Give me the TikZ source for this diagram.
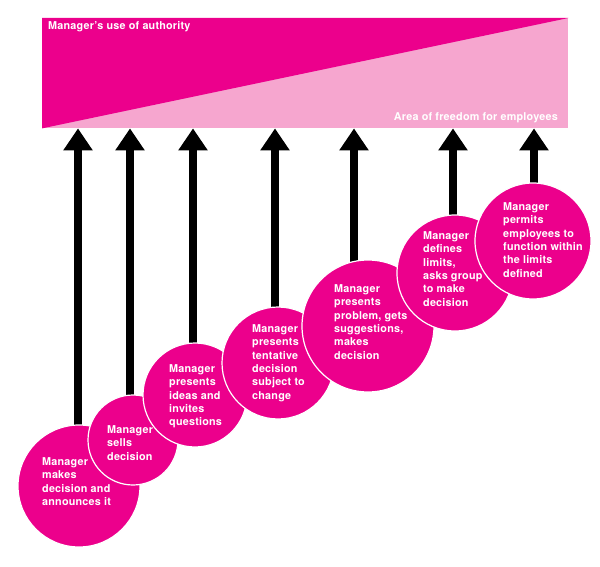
\documentclass[tikz,border=0pt]{standalone}
\usepackage{fontspec}
\setmainfont[LetterSpace=2]{TeX Gyre Heros}
\usetikzlibrary{arrows.meta}
\definecolor{mag}{RGB}{236,0,140}
\definecolor{lpink}{RGB}{246,166,207}
\newcommand{\lines}[1]{\begin{tabular}[t]{@{}l@{}}#1\end{tabular}}
\begin{document}
\begin{tikzpicture}[x=1pt,y=-1pt,
  bubble/.style={circle,fill=mag,draw=white,line width=1.2pt,inner sep=0pt,minimum size=#1},
  btext/.style={anchor=base west,inner sep=0pt,text=white,font=\fontsize{10.8}{13.3}\selectfont\bfseries},
  uparrow/.style={line width=8pt,-{Triangle[width=28pt,length=22pt]}},
]
\useasboundingbox (0,0) rectangle (600,567);
% bar
\node[fill=lpink,minimum width=526pt,minimum height=110pt,inner sep=0pt,anchor=north west] (bar) at (42,18) {};
\fill[mag] (bar.north west) -- (bar.north east) -- (bar.south west) -- cycle;
\node[btext] (h1) at (48,30) {Manager’s use of authority};
\node[btext,anchor=base east] (h2) at (558,121) {Area of freedom for employees};
% arrow starts
\coordinate (a1) at (78,440);
\coordinate (a2) at (130,410);
\coordinate (a3) at (193,360);
\coordinate (a4) at (275,320);
\coordinate (a5) at (354,280);
\coordinate (a6) at (453,230);
\coordinate (a7) at (534,200);
\foreach \i in {1,...,7}{\draw[uparrow] (a\i) -- (a\i |- bar.south);}
% circles and texts
\node[bubble=122pt] (c1) at (79,486) {};
\node[btext] (t1) at (42,465.5) {\lines{Manager\\makes\\decision and\\announces it}};
\node[bubble=90pt] (c2) at (133,440) {};
\node[btext] (t2) at (107,433.5) {\lines{Manager\\sells\\decision}};
\node[bubble=104pt] (c3) at (195,395) {};
\node[btext] (t3) at (169,372.5) {\lines{Manager\\presents\\ideas and\\invites\\questions}};
\node[bubble=112pt] (c4) at (278,363) {};
\node[btext] (t4) at (252,332.5) {\lines{Manager\\presents\\tentative\\decision\\subject to\\change}};
\node[bubble=132pt] (c5) at (368,326) {};
\node[btext] (t5) at (334,292.5) {\lines{Manager\\presents\\problem, gets\\suggestions,\\makes\\decision}};
\node[bubble=116pt] (c6) at (455,273) {};
\node[btext] (t6) at (423,239.5) {\lines{Manager\\defines\\limits,\\asks group\\to make\\decision}};
\node[bubble=116pt] (c7) at (533,241) {};
\node[btext] (t7) at (503,210.5) {\lines{Manager\\permits\\employees to\\function within\\the limits\\defined}};
\end{tikzpicture}
\end{document}
